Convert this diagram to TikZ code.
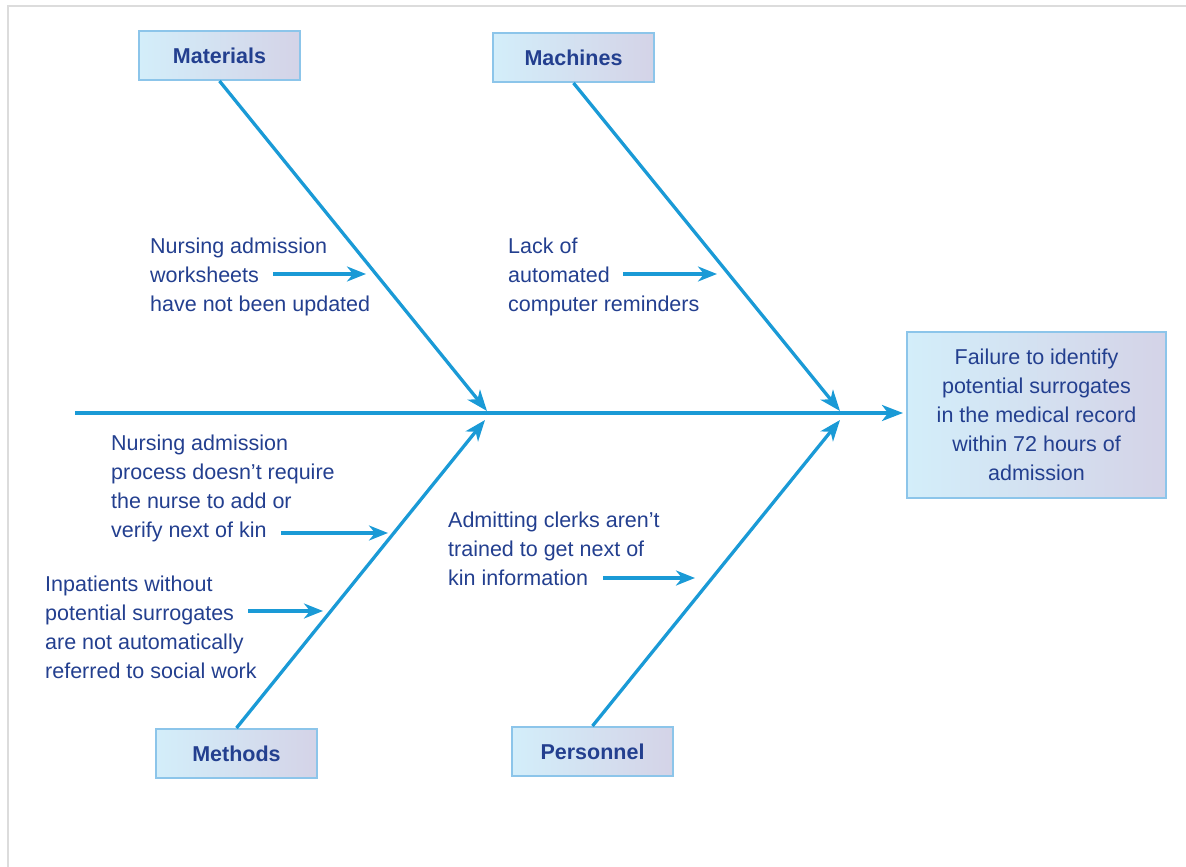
\documentclass[tikz,border=0pt]{standalone}
\usepackage{fontspec}
\setmainfont{Liberation Sans}
\usetikzlibrary{arrows.meta}
\definecolor{fishline}{HTML}{1A9AD6}
\definecolor{txtblue}{HTML}{233F8F}
\definecolor{boxleft}{HTML}{D3EEFA}
\definecolor{boxright}{HTML}{D4D3E7}
\definecolor{boxborder}{HTML}{8CC5EA}
\definecolor{framegray}{HTML}{DCDCDC}
\tikzset{
  catbox/.style={draw=boxborder, line width=2pt, left color=boxleft, right color=boxright,
    minimum width=161pt, minimum height=49pt, inner sep=0pt, text=txtblue,
    font=\fontsize{21.5}{29}\selectfont\bfseries},
  effectbox/.style={draw=boxborder, line width=2pt, left color=boxleft, right color=boxright,
    minimum width=259pt, minimum height=166pt, inner sep=0pt, text=txtblue, align=center,
    font=\fontsize{21.5}{29}\selectfont},
  causetext/.style={anchor=west, inner sep=0pt, align=left, text=txtblue,
    font=\fontsize{21.5}{29}\selectfont},
  bone/.style={draw=fishline, line width=3.3pt, -{Stealth[length=21pt, width=16pt, inset=6pt]}},
  spine/.style={draw=fishline, line width=3.3pt, -{Stealth[length=21pt, width=16pt, inset=6pt]}},
  twig/.style={draw=fishline, line width=3.3pt, -{Stealth[length=19pt, width=15pt, inset=6pt]}},
}
\begin{document}
\begin{tikzpicture}[x=1pt, y=-1pt]
\useasboundingbox (0,0) rectangle (1186,867);
% frame
\draw[framegray, line width=2.5pt] (8,867) -- (8,6) -- (1186,6);

% category boxes
\node[catbox] (mat) at (219.5,55.5) {Materials};
\node[catbox] (mac) at (573.5,57.5) {Machines};
\node[catbox] (met) at (236.5,753.5) {Methods};
\node[catbox] (per) at (592.5,751.5) {Personnel};

% effect box
\node[effectbox] (eff) at (1036.5,415) {Failure to identify\\potential surrogates\\in the medical record\\within 72 hours of\\admission};

% spine
\coordinate (s0) at (75,413);
\coordinate (s1) at (903,413);
\draw[spine] (s0) -- (s1);

% bones
\coordinate (b1) at (487,411);
\coordinate (b2) at (840,411);
\coordinate (b3) at (485,420);
\coordinate (b4) at (840,420);
\draw[bone] (mat.south) -- (b1);
\draw[bone] (mac.south) -- (b2);
\draw[bone] (met.north) -- (b3);
\draw[bone] (per.north) -- (b4);

% cause texts
\node[causetext] (t1) at (150,276.5) {Nursing admission\\worksheets\\have not been updated};
\node[causetext] (t2) at (508,276.5) {Lack of\\automated\\computer reminders};
\node[causetext] (t3) at (111,488.5) {Nursing admission\\process doesn’t require\\the nurse to add or\\verify next of kin};
\node[causetext] (t4) at (45,627) {Inpatients without\\potential surrogates\\are not automatically\\referred to social work};
\node[causetext] (t5) at (448,549) {Admitting clerks aren’t\\trained to get next of\\kin information};

% twigs
\coordinate (a1s) at (273,274); \coordinate (a1e) at (366,274);
\coordinate (a2s) at (623,274); \coordinate (a2e) at (717,274);
\coordinate (a3s) at (281,533); \coordinate (a3e) at (388,533);
\coordinate (a4s) at (248,611); \coordinate (a4e) at (323,611);
\coordinate (a5s) at (603,578); \coordinate (a5e) at (695,578);
\draw[twig] (a1s) -- (a1e);
\draw[twig] (a2s) -- (a2e);
\draw[twig] (a3s) -- (a3e);
\draw[twig] (a4s) -- (a4e);
\draw[twig] (a5s) -- (a5e);
\end{tikzpicture}
\end{document}
